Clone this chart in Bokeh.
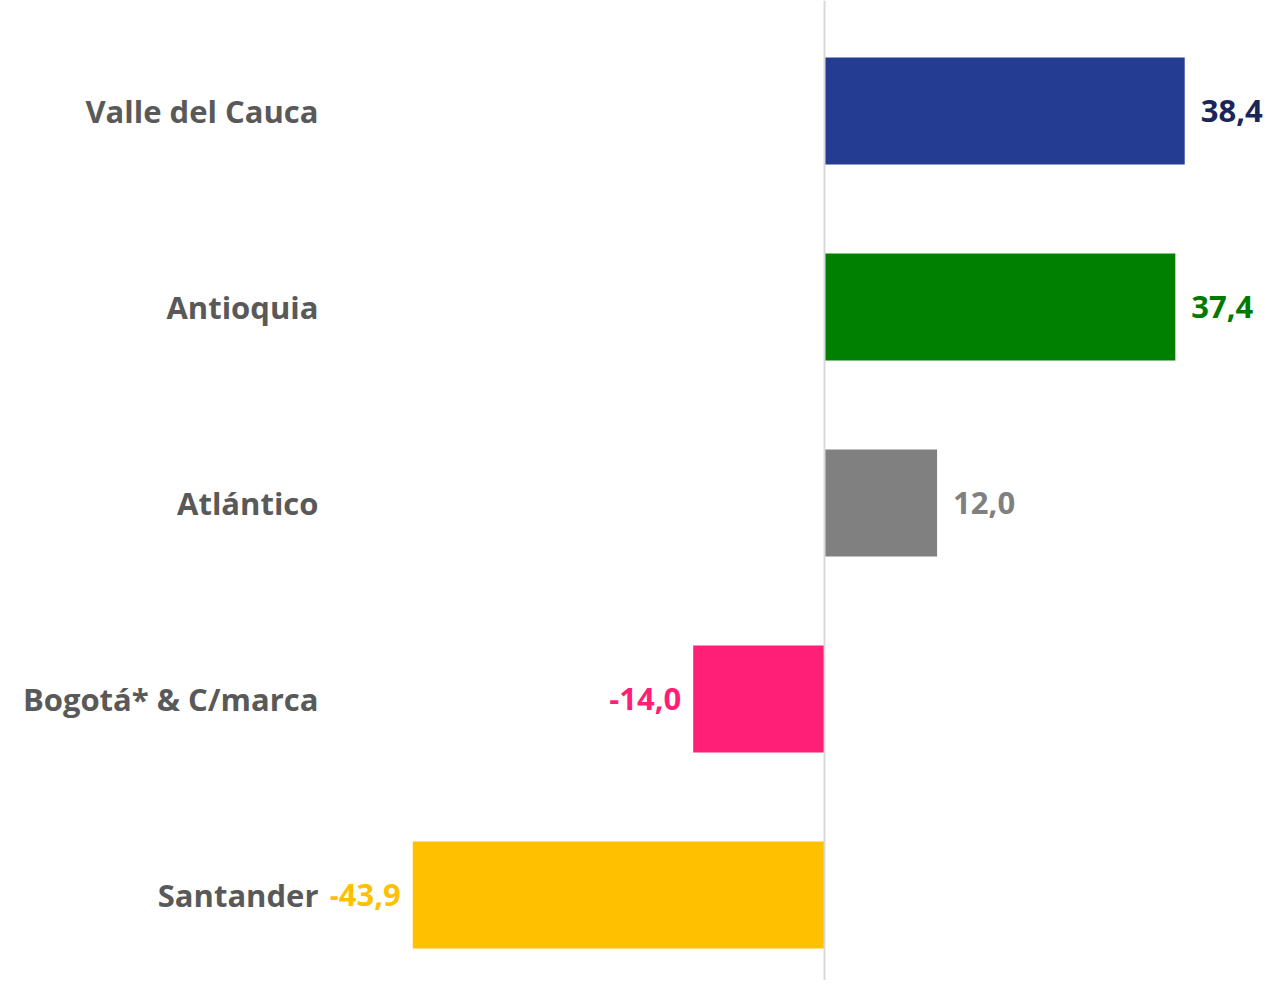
from bokeh.plotting import figure
from bokeh.models import ColumnDataSource, Range1d, Span, FixedTicker
from bokeh.core.properties import value
from bokeh.embed import file_html
from bokeh.resources import INLINE

categories = ["Valle del Cauca", "Antioquia", "Atlántico", "Bogotá* & C/marca", "Santander"]
values = [38.4, 37.4, 12.0, -14.0, -43.9]
labels = ["38,4", "37,4", "12,0", "-14,0", "-43,9"]
bar_colors = ["#243c91", "#008000", "#808080", "#ff1f77", "#ffc000"]
label_colors = ["#1b2658", "#007a00", "#808080", "#ff1f77", "#ffc000"]

n = len(categories)
ypos = [n - 1 - i for i in range(n)]

src = ColumnDataSource(dict(
    y=ypos, v=values, lab=labels, bc=bar_colors, lc=label_colors,
    align=["left" if v >= 0 else "right" for v in values],
    xoff=[16 if v >= 0 else -12 for v in values],
))

FONT = "Open Sans"

p = figure(width=1263, height=980, output_backend="svg", toolbar_location=None,
           x_range=Range1d(-52.67, 46.8), y_range=Range1d(-0.436, 4.564),
           min_border_left=330, min_border_right=0, min_border_top=0, min_border_bottom=0)
p.outline_line_color = None
p.grid.grid_line_color = None
p.xaxis.visible = False

p.hbar(y="y", left=0, right="v", height=0.546, fill_color="bc", line_color=None, source=src)

p.add_layout(Span(location=0, dimension="height", line_color="#d9d9d9", line_width=2))

p.text(x="v", y="y", text="lab", text_color="lc", text_align="align", text_baseline="middle",
       x_offset="xoff", y_offset=0, text_font=value(FONT), text_font_style="bold",
       text_font_size="31px", source=src)

ax = p.yaxis[0]
ax.ticker = FixedTicker(ticks=ypos)
ax.major_label_overrides = {yy: c for yy, c in zip(ypos, categories)}
ax.axis_line_color = None
ax.major_tick_line_color = None
ax.minor_tick_line_color = None
ax.major_tick_out = 0
ax.major_tick_in = 0
ax.major_label_standoff = 12
ax.major_label_text_font = FONT
ax.major_label_text_font_style = "bold"
ax.major_label_text_font_size = "31px"
ax.major_label_text_color = "#595959"

open("out.html", "w").write(file_html(p, INLINE))
